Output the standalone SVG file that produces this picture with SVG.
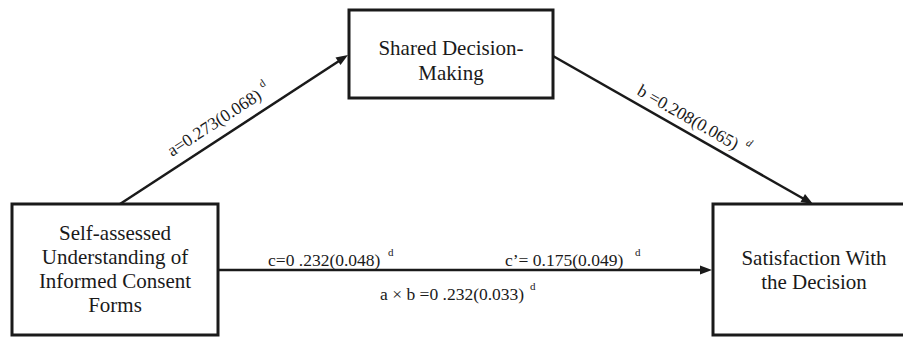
<svg xmlns="http://www.w3.org/2000/svg" width="903" height="337" viewBox="0 0 903 337">
<style>
.box{fill:#fff;stroke:#1a1a1a;stroke-width:3}
.edge{stroke:#1a1a1a;stroke-width:2.5;fill:none}
.head{fill:#1a1a1a}
text{font-family:"Liberation Serif","Times New Roman",serif;fill:#1a1a1a}
.lbl{font-size:21px;text-anchor:middle}
.coef{font-size:17.5px}
.sup{font-size:11px}
</style>
<rect width="903" height="337" fill="#fff"/>
<g id="connectors">
<line class="edge" x1="120" y1="204" x2="339" y2="61"/>
<polygon class="head" points="348,55 335.5,57.5 340.5,65"/>
<line class="edge" x1="553" y1="56" x2="804" y2="199"/>
<polygon class="head" points="813,204 805,194 800.5,202"/>
<line class="edge" x1="218" y1="270" x2="702" y2="270"/>
<polygon class="head" points="712,270 700,265.5 700,274.5"/>
</g>
<g id="node-shared">
<rect class="box" x="349" y="10" width="204" height="88"/>
<text class="lbl" x="451" y="55" font-family="Liberation Serif">Shared Decision-</text>
<text class="lbl" x="451" y="80" font-family="Liberation Serif">Making</text>
</g>
<g id="node-understanding">
<rect class="box" x="12" y="204" width="206" height="131"/>
<text class="lbl" x="115" y="240" font-family="Liberation Serif">Self-assessed</text>
<text class="lbl" x="115" y="264" font-family="Liberation Serif">Understanding of</text>
<text class="lbl" x="115" y="288" font-family="Liberation Serif">Informed Consent</text>
<text class="lbl" x="115" y="312" font-family="Liberation Serif">Forms</text>
</g>
<g id="node-satisfaction">
<rect class="box" x="713" y="204" width="200" height="131"/>
<text class="lbl" x="814" y="265" font-family="Liberation Serif">Satisfaction With</text>
<text class="lbl" x="814" y="289" font-family="Liberation Serif">the Decision</text>
</g>
<g id="labels">
<text class="coef" transform="translate(172,157) rotate(-33)" font-family="Liberation Serif">a=0.273(0.068)</text>
<text class="sup" transform="translate(172,157) rotate(-33) translate(113,-9)" font-family="Liberation Serif">d</text>
<text class="coef" transform="translate(636,94) rotate(29.7)" font-family="Liberation Serif">b =0.208(0.065)</text>
<text class="sup" transform="translate(636,94) rotate(29.7) translate(120,-10)" font-style="italic" font-family="Liberation Serif">d</text>
<text class="coef" x="268" y="266" font-family="Liberation Serif">c=0 .232(0.048)</text>
<text class="sup" x="388" y="256" font-family="Liberation Serif">d</text>
<text class="coef" x="505" y="266" font-family="Liberation Serif">c&#8217;= 0.175(0.049)</text>
<text class="sup" x="635" y="256" font-family="Liberation Serif">d</text>
<text class="coef" x="380" y="300" font-family="Liberation Serif">a &#215; b =0 .232(0.033)</text>
<text class="sup" x="530" y="290" font-family="Liberation Serif">d</text>
</g>
</svg>
